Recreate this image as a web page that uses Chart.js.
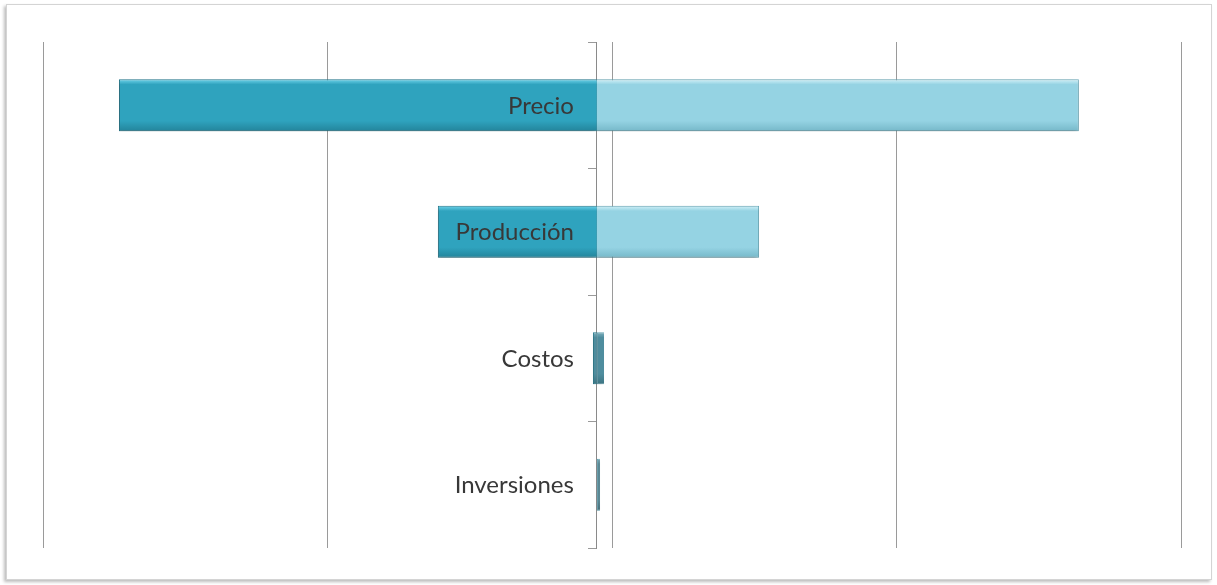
<!DOCTYPE html>
<html>
<head>
<meta charset="utf-8">
<script src="https://cdn.jsdelivr.net/npm/chart.js@4"></script>
<style>
  html, body { margin: 0; padding: 0; background: #fff; }
  #wrap { position: relative; width: 1217px; height: 585px; }
  #frame {
    position: absolute; left: 6px; top: 4px; width: 1204px; height: 574px;
    border: 1px solid #d4d4d4; box-shadow: -2px 2px 3px #bdbdbd;
    pointer-events: none;
  }
  canvas { position: absolute; left: 0; top: 0; }
</style>
</head>
<body>
<div id="wrap">
  <div id="frame"></div>
  <canvas id="tornadoChart" width="1217" height="585"></canvas>
</div>
<script>
const categories = ['Precio', 'Producción', 'Costos', 'Inversiones'];
// axis crossing value (base case)
const baseValue = -53;
const lowValues = [-1733, -612, -67, -53];
const highValues = [1641, 517, -28, -42];
const xTicks = [-2000, -1000, 0, 1000, 2000];

const barPct = 0.41;
const lowColors = [['#6fd3ea', '#2fa3be', '#23849b'], ['#6fd3ea', '#2fa3be', '#23849b'],
                   ['#7fb0bd', '#4f8d9e', '#3c7381'], ['#7fa9b4', '#5b8894', '#466e79']];
const highColors = [['#d2f1f8', '#95d3e3', '#76b8c9'], ['#d2f1f8', '#95d3e3', '#76b8c9'],
                    ['#7fb0bd', '#4f8d9e', '#3c7381'], ['#7fa9b4', '#5b8894', '#466e79']];

// vertical bevel-ish gradient for each bar, built from the category scale
function shade(ctx, palette) {
  const chart = ctx.chart;
  const y = chart.scales && chart.scales.y;
  const cols = palette[ctx.dataIndex] || palette[0];
  if (!y || !chart.chartArea || ctx.dataIndex === undefined) return cols[1];
  const center = y.getPixelForValue(ctx.dataIndex);
  const h = (y.getPixelForValue(1) - y.getPixelForValue(0)) * barPct;
  const top = center - h / 2;
  const g = chart.ctx.createLinearGradient(0, top, 0, top + h);
  g.addColorStop(0, cols[0]);
  g.addColorStop(0.1, cols[1]);
  g.addColorStop(0.8, cols[1]);
  g.addColorStop(1, cols[2]);
  return g;
}

// soft shadow under the bars + category names on top of them
const labelPlugin = {
  id: 'catLabels',
  beforeDatasetsDraw(chart) {
    const ctx = chart.ctx;
    ctx.save();
    ctx.shadowColor = 'rgba(0,0,0,0.28)';
    ctx.shadowBlur = 4;
    ctx.shadowOffsetX = -1;
    ctx.shadowOffsetY = 2;
  },
  afterDatasetsDraw(chart) {
    const { ctx, scales: { x, y } } = chart;
    ctx.restore();
    const right = x.getPixelForValue(baseValue) - 23;
    ctx.save();
    ctx.font = '24px Lato';
    ctx.fillStyle = '#383838';
    ctx.textAlign = 'right';
    ctx.textBaseline = 'middle';
    categories.forEach((c, i) => {
      ctx.fillText(c, right, y.getPixelForValue(i) + 1);
    });
    ctx.restore();
  }
};

const config = {
  type: 'bar',
  data: {
    labels: categories,
    datasets: [
      {
        label: 'Bajo',
        data: lowValues.map(v => [v, baseValue]),
        backgroundColor: (ctx) => shade(ctx, lowColors),
        borderColor: '#2a7f93',
        borderWidth: 1
      },
      {
        label: 'Alto',
        data: highValues.map(v => [baseValue, v]),
        backgroundColor: (ctx) => shade(ctx, highColors),
        borderColor: '#6aaabb',
        borderWidth: 1
      }
    ]
  },
  options: {
    indexAxis: 'y',
    responsive: false,
    animation: false,
    grouped: false,
    categoryPercentage: 1,
    barPercentage: barPct,
    layout: {
      padding: { left: 43, right: 36, top: 42, bottom: 37 }
    },
    plugins: {
      legend: { display: false },
      tooltip: { enabled: false }
    },
    scales: {
      x: {
        type: 'linear',
        min: xTicks[0],
        max: xTicks[xTicks.length - 1],
        afterBuildTicks: (scale) => {
          scale.ticks = xTicks.map(v => ({ value: v }));
        },
        ticks: { display: false },
        border: { display: false },
        grid: {
          color: '#9a9a9a',
          lineWidth: 1,
          drawTicks: false
        }
      },
      y: {
        position: { x: baseValue },
        offset: true,
        border: { display: true, color: '#8a8a8a', width: 1 },
        grid: {
          drawOnChartArea: false,
          drawTicks: true,
          tickLength: 8,
          color: '#9a9a9a',
          offset: true
        },
        ticks: { display: false }
      }
    }
  },
  plugins: [labelPlugin]
};

new Chart(document.getElementById('tornadoChart'), config);
</script>
</body>
</html>
